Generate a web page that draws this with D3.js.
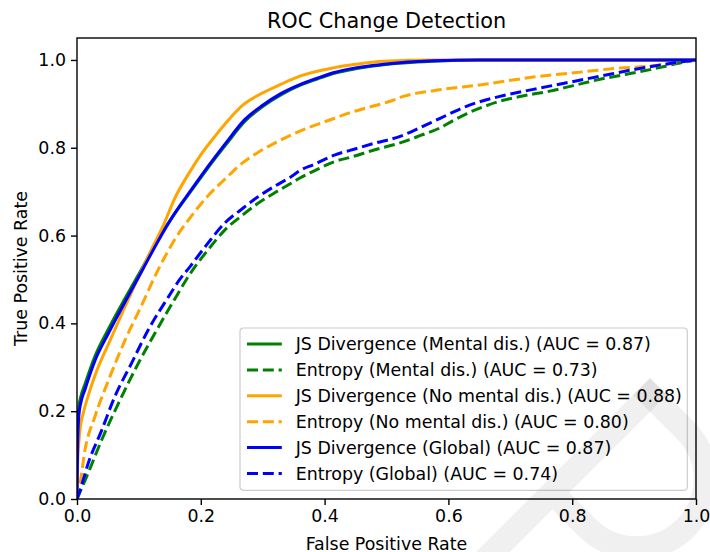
<!DOCTYPE html>
<html>
<head>
<meta charset="utf-8">
<script src="https://cdn.jsdelivr.net/npm/d3@7"></script>
<style>
  body { margin: 0; background: #fff; }
  svg { display: block; font-family: "DejaVu Sans", sans-serif; }
</style>
</head>
<body>
<div id="root"></div>
<script>
// ROC points, [false positive rate, true positive rate]
const jsMental = [[0,0],[0.001,0.15],[0.003,0.21],[0.006,0.232],[0.013,0.262],[0.029,0.325],[0.051,0.388],[0.078,0.458],[0.107,0.53],[0.13,0.59],[0.158,0.65],[0.185,0.703],[0.212,0.755],[0.24,0.806],[0.271,0.86],[0.3,0.894],[0.33,0.921],[0.36,0.942],[0.387,0.956],[0.414,0.969],[0.45,0.98],[0.495,0.989],[0.575,0.997],[0.65,1],[1,1]];
const entMental = [[0,0],[0.018,0.059],[0.04,0.135],[0.067,0.218],[0.099,0.309],[0.126,0.378],[0.156,0.451],[0.187,0.522],[0.212,0.568],[0.239,0.613],[0.266,0.645],[0.293,0.674],[0.32,0.698],[0.347,0.72],[0.36,0.731],[0.39,0.752],[0.417,0.769],[0.441,0.778],[0.48,0.795],[0.522,0.811],[0.555,0.828],[0.586,0.845],[0.608,0.862],[0.63,0.878],[0.656,0.893],[0.683,0.906],[0.72,0.918],[0.764,0.929],[0.8,0.941],[0.845,0.956],[0.886,0.967],[0.926,0.978],[0.974,0.993],[1,1]];
const jsNoMental = [[0,0],[0.001,0.08],[0.003,0.13],[0.006,0.17],[0.01,0.195],[0.018,0.235],[0.03,0.285],[0.045,0.335],[0.061,0.385],[0.075,0.43],[0.09,0.477],[0.105,0.522],[0.121,0.57],[0.14,0.625],[0.158,0.685],[0.18,0.74],[0.201,0.786],[0.225,0.83],[0.245,0.864],[0.266,0.895],[0.3,0.925],[0.33,0.945],[0.36,0.963],[0.414,0.982],[0.45,0.99],[0.495,0.997],[0.575,1],[1,1]];
const entNoMental = [[0,0],[0.005,0.036],[0.013,0.112],[0.029,0.188],[0.051,0.271],[0.078,0.363],[0.104,0.44],[0.131,0.522],[0.158,0.591],[0.185,0.645],[0.212,0.691],[0.24,0.73],[0.266,0.764],[0.293,0.79],[0.32,0.811],[0.347,0.83],[0.374,0.846],[0.414,0.866],[0.441,0.88],[0.468,0.891],[0.506,0.906],[0.527,0.917],[0.576,0.93],[0.656,0.944],[0.737,0.961],[0.818,0.973],[0.872,0.981],[0.926,0.986],[0.98,0.996],[1,1]];
const jsGlobal = [[0,0],[0.001,0.12],[0.003,0.19],[0.006,0.218],[0.013,0.25],[0.029,0.315],[0.051,0.378],[0.078,0.45],[0.107,0.525],[0.13,0.585],[0.158,0.651],[0.185,0.705],[0.212,0.758],[0.24,0.81],[0.271,0.864],[0.3,0.897],[0.33,0.924],[0.36,0.944],[0.387,0.958],[0.414,0.971],[0.45,0.982],[0.495,0.99],[0.575,0.998],[0.65,1],[1,1]];
const entGlobal = [[0,0],[0.005,0.02],[0.018,0.081],[0.04,0.157],[0.061,0.233],[0.088,0.309],[0.115,0.385],[0.148,0.461],[0.166,0.5],[0.183,0.53],[0.21,0.58],[0.239,0.629],[0.266,0.66],[0.293,0.689],[0.32,0.713],[0.347,0.735],[0.36,0.748],[0.383,0.762],[0.417,0.784],[0.441,0.794],[0.48,0.81],[0.522,0.826],[0.55,0.843],[0.576,0.86],[0.603,0.878],[0.63,0.895],[0.656,0.907],[0.683,0.917],[0.737,0.933],[0.791,0.948],[0.845,0.963],[0.899,0.978],[0.953,0.991],[1,1]];

const seriesData = [jsMental, entMental, jsNoMental, entNoMental, jsGlobal, entGlobal];
const seriesLabels = [
  "JS Divergence (Mental dis.) (AUC = 0.87)",
  "Entropy (Mental dis.) (AUC = 0.73)",
  "JS Divergence (No mental dis.) (AUC = 0.88)",
  "Entropy (No mental dis.) (AUC = 0.80)",
  "JS Divergence (Global) (AUC = 0.87)",
  "Entropy (Global) (AUC = 0.74)"
];
const seriesColors = ["green", "green", "orange", "orange", "blue", "blue"];
const seriesDashed = [false, true, false, true, false, true];
const xTicks = [0, 0.2, 0.4, 0.6, 0.8, 1.0];
const yTicks = [0, 0.2, 0.4, 0.6, 0.8, 1.0];

const outerWidth = 710;
const outerHeight = 552;
const margin = { top: 38, right: 14, bottom: 53, left: 77 };
const width = outerWidth - margin.left - margin.right;
const height = outerHeight - margin.top - margin.bottom;

const fontSize = 17.4;
const lineWidth = 3;
const dash = "11,4.8";

let scaleX = d3.scaleLinear().domain([0, 1]).range([0, width]);
let scaleY = d3.scaleLinear().domain([0, 1.05]).range([height, 0]);

let svg = d3.select("#root")
  .append("svg")
  .attr("width", outerWidth)
  .attr("height", outerHeight);

let chart = svg.append("g")
  .attr("transform", `translate(${margin.left}, ${margin.top})`);

chart.append("clipPath")
  .attr("id", "plotClip")
  .append("rect")
  .attr("width", width)
  .attr("height", height);

let line = d3.line()
  .curve(d3.curveMonotoneX)
  .x(d => scaleX(d[0]))
  .y(d => scaleY(d[1]));

chart.append("g")
  .attr("clip-path", "url(#plotClip)")
  .selectAll("path")
  .data(seriesData)
  .enter().append("path")
  .attr("d", line)
  .attr("fill", "none")
  .attr("stroke", (d, i) => seriesColors[i])
  .attr("stroke-width", lineWidth)
  .attr("stroke-linejoin", "round")
  .attr("stroke-dasharray", (d, i) => seriesDashed[i] ? dash : null);

// axes
let xAxis = d3.axisBottom(scaleX).tickValues(xTicks).tickFormat(d3.format(".1f"))
  .tickSize(6).tickPadding(5).tickSizeOuter(0);
let yAxis = d3.axisLeft(scaleY).tickValues(yTicks).tickFormat(d3.format(".1f"))
  .tickSize(6).tickPadding(5).tickSizeOuter(0);

let gx = chart.append("g").attr("transform", `translate(0, ${height})`).call(xAxis);
let gy = chart.append("g").call(yAxis);

[gx, gy].forEach(g => {
  g.select(".domain").remove();
  g.selectAll(".tick line").attr("stroke", "#000").attr("stroke-width", 1.4);
  g.selectAll(".tick text").attr("fill", "#000")
    .style("font-size", fontSize + "px")
    .style("font-family", "DejaVu Sans");
});

chart.append("rect")
  .attr("width", width)
  .attr("height", height)
  .attr("fill", "none")
  .attr("stroke", "#000")
  .attr("stroke-width", 1.4);

// legend, lower right
const legendRow = 25.9;
let legend = chart.append("g")
  .attr("transform", `translate(${width - 8.7 - 447.3}, ${height - 8.7 - 162.3})`);

legend.append("rect")
  .attr("width", 447.3)
  .attr("height", 162.3)
  .attr("rx", 3.5)
  .attr("fill", "#fff")
  .attr("fill-opacity", 0.8)
  .attr("stroke", "#cccccc")
  .attr("stroke-width", 1.2);

let item = legend.selectAll(".item")
  .data(seriesLabels)
  .enter().append("g")
  .attr("class", "item")
  .attr("transform", (d, i) => `translate(7, ${16 + i * legendRow})`);

item.append("line")
  .attr("x1", 0).attr("x2", 34.8)
  .attr("stroke", (d, i) => seriesColors[i])
  .attr("stroke-width", lineWidth)
  .attr("stroke-dasharray", (d, i) => seriesDashed[i] ? dash : null);

item.append("text")
  .attr("x", 48.7)
  .attr("dy", "0.36em")
  .style("font-size", fontSize + "px")
  .text(d => d);

// titles
svg.append("text")
  .attr("x", margin.left + width / 2)
  .attr("y", 28)
  .attr("text-anchor", "middle")
  .style("font-size", "20.8px")
  .text("ROC Change Detection");

svg.append("text")
  .attr("x", margin.left + width / 2)
  .attr("y", 549.5)
  .attr("text-anchor", "middle")
  .style("font-size", fontSize + "px")
  .text("False Positive Rate");

svg.append("text")
  .attr("transform", `translate(26.5, ${margin.top + height / 2}) rotate(-90)`)
  .attr("text-anchor", "middle")
  .style("font-size", fontSize + "px")
  .text("True Positive Rate");

// faint watermark glyph in the lower right corner
let mark = svg.append("g")
  .attr("transform", "translate(650, 378) rotate(45)")
  .attr("fill", "none")
  .attr("stroke", "#000")
  .attr("stroke-opacity", 0.06)
  .attr("stroke-width", 24);
mark.append("path").attr("d", "M12,0 V420");
mark.append("path").attr("d", "M0,12 H62 A69,69 0 0 1 62,150 H24");
</script>
</body>
</html>
